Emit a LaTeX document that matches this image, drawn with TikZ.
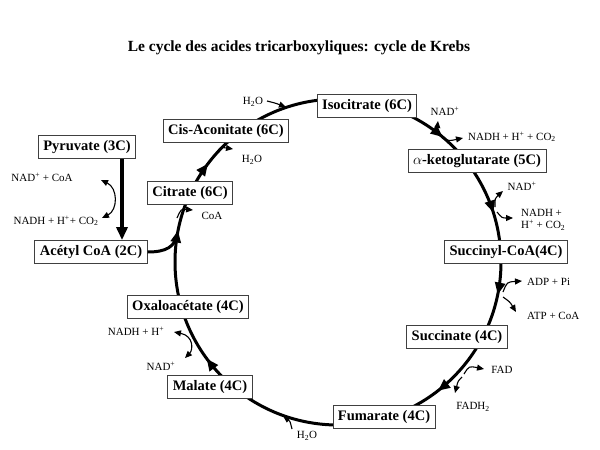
\documentclass[tikz,border=0pt]{standalone}
\usepackage{fontspec}
\setmainfont{Liberation Serif}
\usetikzlibrary{arrows.meta,decorations.markings}
\newcommand{\cyctip}{\arrow{Triangle[length=12pt,width=10pt]}}
\tikzset{
  met/.style={rectangle,draw=black!75,fill=white,line width=0.8pt,inner xsep=5pt,minimum height=23pt,font=\fontsize{14.5}{16}\selectfont\bfseries},
  lab/.style={inner sep=1pt,font=\fontsize{11}{12}\selectfont},
  cyc/.style={line width=3pt},
  sa/.style={-{Triangle[length=7pt,width=6pt]},line width=1.1pt},
  dsa/.style={{Triangle[length=7pt,width=6pt]}-{Triangle[length=7pt,width=6pt]},line width=1.1pt},
  big/.style={-{Triangle[length=13pt,width=11pt]},line width=3.5pt}
}

\begin{document}
\begin{tikzpicture}[x=1pt,y=-1pt]
\useasboundingbox (0,0) rectangle (600,450);
\node[font=\fontsize{15.5}{18}\selectfont\bfseries] (title) at (299,48) {Le cycle des acides tricarboxyliques: cycle de Krebs};

% le cycle
\coordinate (O) at (338,262);
\draw[cyc,postaction={decorate},decoration={markings,
  mark=at position 0.032 with {\cyctip},
  mark=at position 0.145 with {\cyctip},
  mark=at position 0.399 with {\cyctip},
  mark=at position 0.531 with {\cyctip},
  mark=at position 0.603 with {\cyctip},
  mark=at position 0.861 with {\cyctip},
  mark=at position 0.951 with {\cyctip}}]
  (O) ++(0:163) arc (0:360:163);
\path (O) ++(190:163) coordinate (join);

\node[met] (pyr)    at (87,147)  {Pyruvate (3C)};
\node[met] (acetyl) at (91,252)  {Acétyl CoA (2C)};
\node[met] (cit)    at (190,193) {Citrate (6C)};
\node[met] (cis)    at (226,131) {Cis-Aconitate (6C)};
\node[met] (iso)    at (367,106) {Isocitrate (6C)};
\node[met] (akg)    at (477,161) {$\alpha$-ketoglutarate (5C)};
\node[met] (scoa)   at (506,252) {Succinyl-CoA(4C)};
\node[met] (succ)   at (457,337) {Succinate (4C)};
\node[met] (fum)    at (384,417) {Fumarate (4C)};
\node[met] (mal)    at (210,387) {Malate (4C)};
\node[met] (oaa)    at (188,307) {Oxaloacétate (4C)};

\draw[big] ([xshift=35pt]pyr.south) -- ([xshift=31pt]acetyl.north);
\draw[cyc] (acetyl.east) .. controls (166,252) and (175,247) .. (join);

% cofacteurs
\node[lab] (nadcoa) at (42,177)  {NAD\textsuperscript{+} + CoA};
\node[lab] (nadhco) at (56,221)  {NADH + H\textsuperscript{+}+ CO\textsubscript{2}};
\node[lab] (coa)    at (212,216) {CoA};
\node[lab] (h2oa)   at (252,160) {H\textsubscript{2}O};
\node[lab] (h2ob)   at (253,102) {H\textsubscript{2}O};
\node[lab] (nada)   at (445,111) {NAD\textsuperscript{+}};
\node[lab] (nadha)  at (512,137) {NADH + H\textsuperscript{+} + CO\textsubscript{2}};
\node[lab] (nadb)   at (522,186) {NAD\textsuperscript{+}};
\node[lab,align=left,anchor=west] (nadhb) at (520,220) {NADH +\\H\textsuperscript{+} + CO\textsubscript{2}};
\node[lab,anchor=west] (adp) at (526,282) {ADP + Pi};
\node[lab,anchor=west] (atp) at (526,316) {ATP + CoA};
\node[lab] (fad)    at (502,370) {FAD};
\node[lab] (fadh)   at (473,407) {FADH\textsubscript{2}};
\node[lab] (h2oc)   at (307,436) {H\textsubscript{2}O};
\node[lab] (nadhc)  at (136,331) {NADH + H\textsuperscript{+}};
\node[lab] (nadc)   at (161,366) {NAD\textsuperscript{+}};

\draw[dsa] (101,180) .. controls (118,188) and (118,210) .. (102,218);
\draw[sa] (177,218) .. controls (181,209) .. (193,210);
\draw[sa] (216,154) .. controls (220,147) .. (233,149);
\draw[sa] (267,101) .. controls (275,103) .. (286,107);
\draw[sa] (442,136) .. controls (437,130) .. (438,121);
\draw[sa] (442,138) .. controls (449,141) .. (463,138);
\draw[sa] (495,207) .. controls (495,198) .. (503,191);
\draw[sa] (497,212) .. controls (502,218) .. (513,218);
\draw[sa] (503,292) .. controls (507,282) .. (522,281);
\draw[sa] (503,297) .. controls (510,302) .. (516,312);
\draw[sa] (464,374) .. controls (469,366) .. (484,369);
\draw[sa] (462,377) .. controls (458,381) .. (455,393);
\draw[sa] (292,429) .. controls (290,421) .. (283,416);
\draw[dsa] (174,332) .. controls (194,336) and (193,350) .. (185,358);
\end{tikzpicture}
\end{document}
